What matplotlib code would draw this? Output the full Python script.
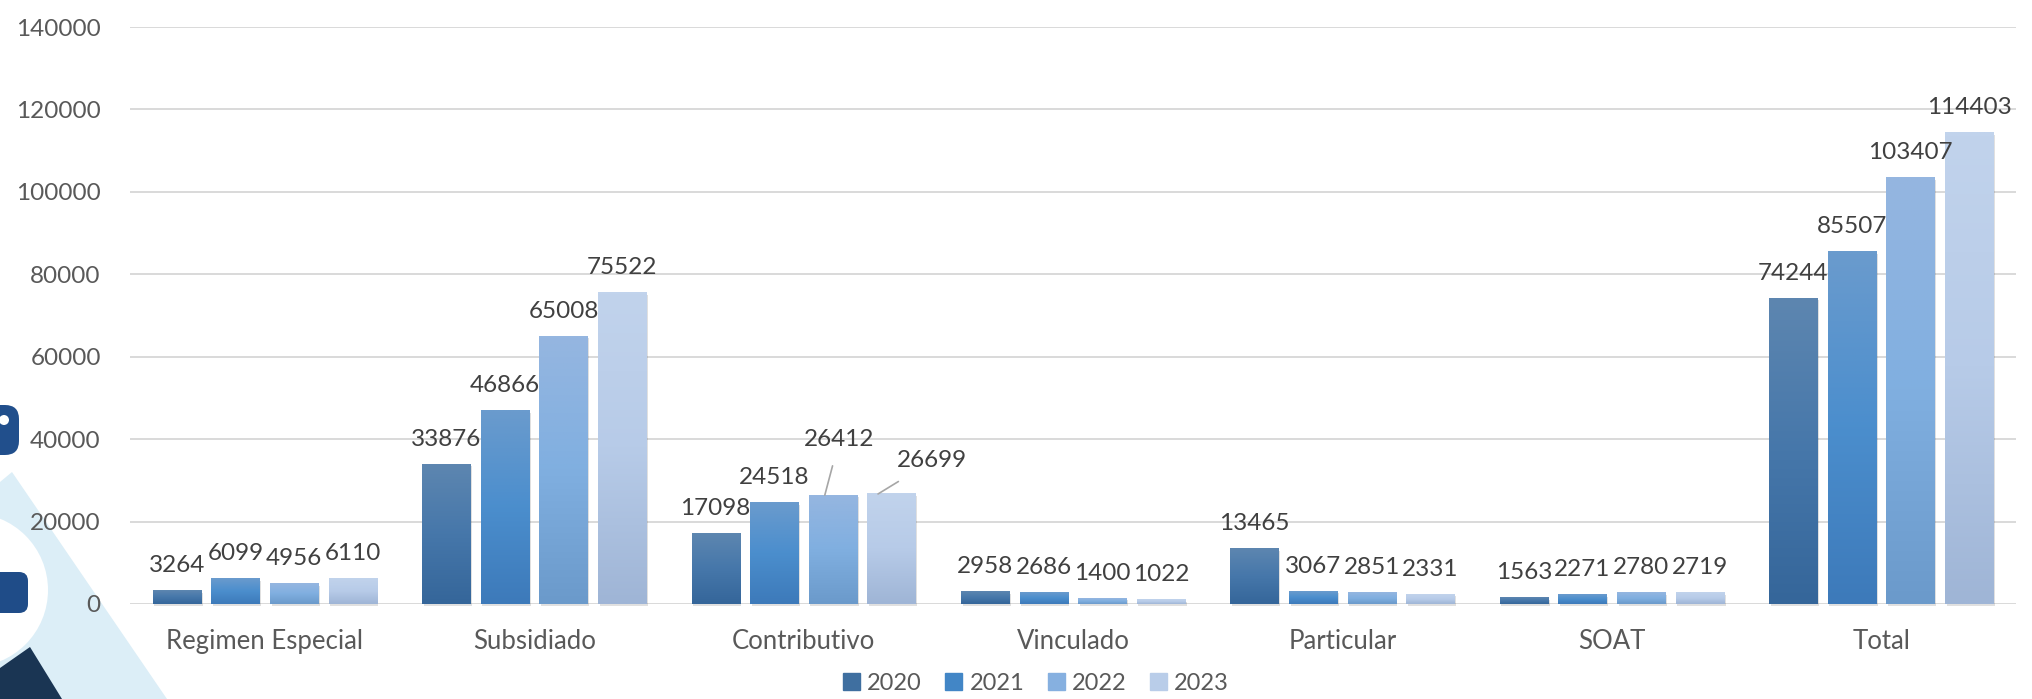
import matplotlib.pyplot as plt
import numpy as np
from matplotlib.colors import to_rgb
from matplotlib.patches import Polygon, Circle, FancyBboxPatch, Patch

categories = ['Regimen Especial', 'Subsidiado', 'Contributivo', 'Vinculado',
              'Particular', 'SOAT', 'Total']
years = ['2020', '2021', '2022', '2023']
v2020 = [3264, 33876, 17098, 2958, 13465, 1563, 74244]
v2021 = [6099, 46866, 24518, 2686, 3067, 2271, 85507]
v2022 = [4956, 65008, 26412, 1400, 2851, 2780, 103407]
v2023 = [6110, 75522, 26699, 1022, 2331, 2719, 114403]
series = [v2020, v2021, v2022, v2023]

# gradient stops (top, middle, bottom) per year
gradients = [('#5d86b0', '#4677aa', '#35669a'),
             ('#6a9bcd', '#4b8ecd', '#3d7aba'),
             ('#95b6e0', '#80afe0', '#6b9acb'),
             ('#c1d3ec', '#b7cbe8', '#9fb5d6')]
legend_colors = ['#3f6fa0', '#4286c6', '#86b0e0', '#b9cde9']

plt.rcParams['font.family'] = ['Lato', 'DejaVu Sans']

W, H = 2033, 699
fig = plt.figure(figsize=(W / 100, H / 100), dpi=100)

# decorative background on the left edge
bg = fig.add_axes([0, 0, 1, 1], zorder=0)
bg.set_xlim(0, W)
bg.set_ylim(H, 0)
bg.axis('off')
bg.add_patch(Polygon([(0, 482), (12, 472), (167, 699), (0, 699)], color='#dceef7', lw=0))
bg.add_patch(Circle((-29, 590), 77, color='white', lw=0))
bg.add_patch(FancyBboxPatch((-20, 572), 48, 41, boxstyle='round,pad=0,rounding_size=9',
                            color='#1f4c88', lw=0))
bg.add_patch(Polygon([(0, 668), (30, 647), (62, 699), (0, 699)], color='#1a3553', lw=0))
bg.add_patch(FancyBboxPatch((-25, 405), 44, 50, boxstyle='round,pad=0,rounding_size=14',
                            color='#214f8c', lw=0))
bg.add_patch(Circle((4, 420), 5, color='white', lw=0))

ax = fig.add_axes([130 / W, 1 - 604 / H, (2016 - 130) / W, (604 - 27) / H], zorder=1)
ax.patch.set_alpha(0)

x = np.arange(len(categories))
pitch = 0.2176
width = 0.179
label_size = 17.5

for i, vals in enumerate(series):
    top, mid, bot = [np.array(to_rgb(c)) for c in gradients[i]]
    t = np.linspace(0, 1, 64)[:, None]
    grad = np.where(t < 0.5, top + (mid - top) * (t / 0.5), mid + (bot - mid) * ((t - 0.5) / 0.5))
    img = grad[:, None, :]
    for j, v in enumerate(vals):
        xc = x[j] + (i - 1.5) * pitch
        # soft shadow
        ax.bar(xc + 0.006, v, width=width, bottom=-500, color='#000000', alpha=0.12,
               zorder=1, clip_on=False, lw=0)
        ax.imshow(img, extent=(xc - width / 2, xc + width / 2, 0, v), aspect='auto',
                  origin='upper', interpolation='bilinear', zorder=2)
        if j == 2 and i >= 2:
            continue
        ax.annotate(str(v), (xc, v), xytext=(0, 18), textcoords='offset points',
                    ha='center', va='center', fontsize=label_size, color='#404040', zorder=3)

# Contributivo labels moved with leader lines
xc2 = x[2] + 0.5 * pitch
ax.annotate(str(v2022[2]), (xc2 - 0.03, v2022[2]), xytext=(xc2 + 0.025, 40000),
            textcoords='data', ha='center', va='center', fontsize=label_size, color='#404040',
            arrowprops=dict(arrowstyle='-', color='#a6a6a6', lw=1.2, shrinkA=10, shrinkB=0))
xc3 = x[2] + 1.5 * pitch
ax.annotate(str(v2023[2]), (xc3 - 0.05, v2023[2]), xytext=(xc3 + 0.15, 34700),
            textcoords='data', ha='center', va='center', fontsize=label_size, color='#404040',
            arrowprops=dict(arrowstyle='-', color='#a6a6a6', lw=1.2, shrinkA=10, shrinkB=0))

ax.set_xlim(-0.5, len(categories) - 0.5)
ax.set_ylim(0, 140000)
ax.set_yticks(range(0, 140001, 20000))
ax.set_xticks(x)
ax.set_xticklabels(categories)
ax.yaxis.grid(True, color='#d9d9d9', lw=1.4, zorder=0)
ax.set_axisbelow(True)
for s in ax.spines.values():
    s.set_visible(False)
ax.tick_params(axis='both', length=0, labelcolor='#595959')
ax.tick_params(axis='y', pad=21, labelsize=17.5)
ax.tick_params(axis='x', pad=18, labelsize=18.5)

handles = [Patch(color=c) for c in legend_colors]
fig.legend(handles, years, loc='center', bbox_to_anchor=(1036 / W, 1 - 683 / H), ncol=4,
           frameon=False, fontsize=17, labelcolor='#595959', handlelength=0.72,
           handleheight=0.72, handletextpad=0.3, columnspacing=1.0)

fig.savefig('out.png', dpi=100)
